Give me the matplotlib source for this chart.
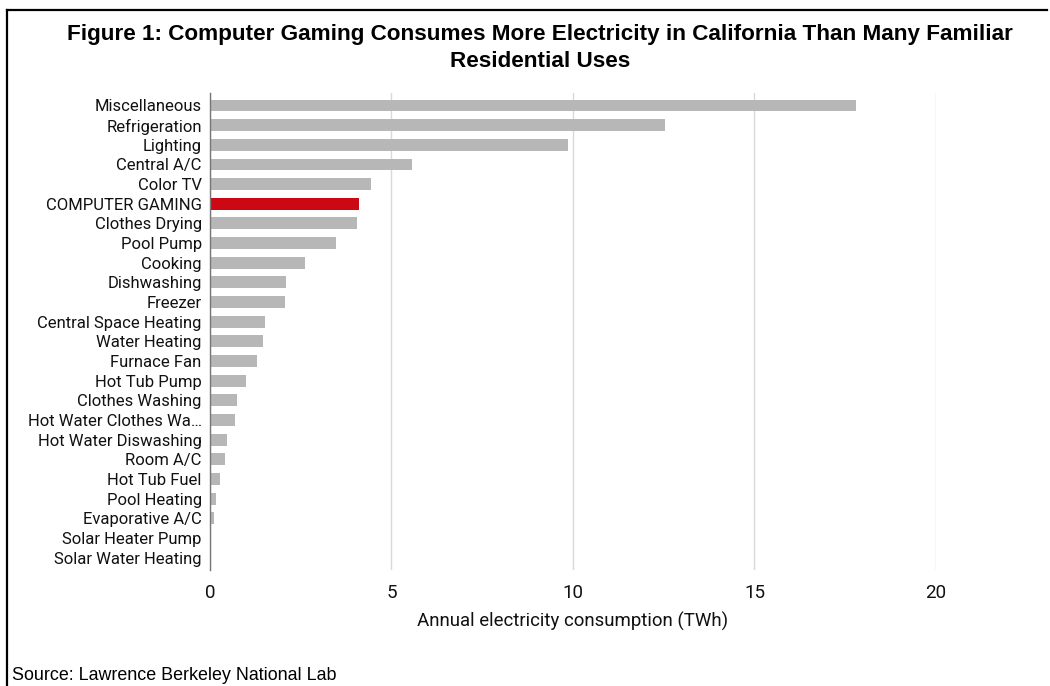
import matplotlib.pyplot as plt
from matplotlib.lines import Line2D

categories = ['Miscellaneous', 'Refrigeration', 'Lighting', 'Central A/C', 'Color TV',
              'COMPUTER GAMING', 'Clothes Drying', 'Pool Pump', 'Cooking', 'Dishwashing',
              'Freezer', 'Central Space Heating', 'Water Heating', 'Furnace Fan',
              'Hot Tub Pump', 'Clothes Washing', 'Hot Water Clothes Wa…',
              'Hot Water Diswashing', 'Room A/C', 'Hot Tub Fuel', 'Pool Heating',
              'Evaporative A/C', 'Solar Heater Pump', 'Solar Water Heating']
values = [17.8, 12.53, 9.85, 5.56, 4.44, 4.10, 4.04, 3.47, 2.62, 2.08,
          2.07, 1.52, 1.47, 1.30, 0.98, 0.75, 0.70, 0.47, 0.41, 0.27,
          0.16, 0.12, 0.0, 0.0]
highlight = 'COMPUTER GAMING'
xticks = [0, 5, 10, 15, 20]

colors = ['#cc0814' if c == highlight else '#b7b7b7' for c in categories]

fig = plt.figure(figsize=(10.5, 6.86), dpi=100)
ax = fig.add_axes([0.2, 0.169, 0.6914, 0.6954])

y = list(range(len(categories)))
ax.barh(y, values, height=0.6, color=colors, zorder=2)
ax.set_ylim(len(categories) - 1 + 0.63, -0.63)
ax.set_xlim(0, 20)
ax.set_yticks(y)
ax.set_yticklabels(categories, family='Roboto', fontsize=12, color='#111111')
ax.set_xticks(xticks)
ax.set_xticklabels([str(t) for t in xticks], family='Roboto', fontsize=13.5, color='#111111')
ax.tick_params(axis='both', length=0)
ax.tick_params(axis='y', pad=6)
ax.tick_params(axis='x', pad=10)
ax.grid(axis='x', color='#d9d9d9', lw=1, zorder=0)
for s in ['top', 'right', 'bottom']:
    ax.spines[s].set_visible(False)
ax.spines['left'].set_color('#777777')
ax.spines['left'].set_linewidth(1)
ax.spines['left'].set_zorder(3)
ax.set_xlabel('Annual electricity consumption (TWh)', family='Roboto', fontsize=13.4,
              color='#111111', labelpad=7)

fig.text(0.514, 0.950, 'Figure 1: Computer Gaming Consumes More Electricity in California Than Many Familiar',
         ha='center', va='center', family='Liberation Sans', fontweight='bold', fontsize=16.2)
fig.text(0.514, 0.910, 'Residential Uses', ha='center', va='center',
         family='Liberation Sans', fontweight='bold', fontsize=16.2)
fig.text(0.011, 0.015, 'Source: Lawrence Berkeley National Lab', ha='left', va='center',
         family='Liberation Sans', fontsize=12.9)

# partial frame round the figure (top and left)
fig.add_artist(Line2D([7 / 1050, 1047 / 1050], [1 - 10 / 686, 1 - 10 / 686],
                      transform=fig.transFigure, color='black', lw=1.6))
fig.add_artist(Line2D([7 / 1050, 7 / 1050], [1 - 10 / 686, 0],
                      transform=fig.transFigure, color='black', lw=1.6))

fig.savefig('out.png', dpi=100)
